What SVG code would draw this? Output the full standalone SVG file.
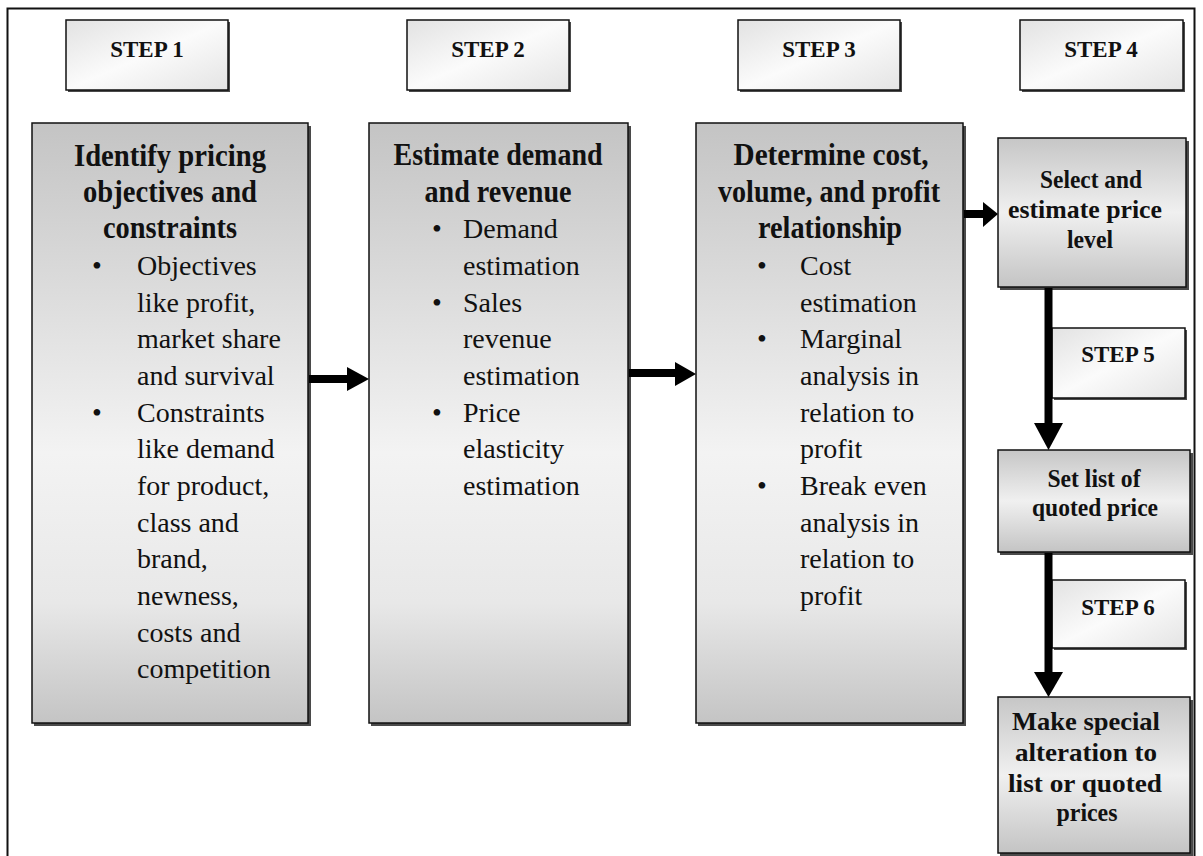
<svg xmlns="http://www.w3.org/2000/svg" width="1203" height="856" viewBox="0 0 1203 856">
  <defs>
    <linearGradient id="gBig" x1="0" y1="0" x2="0" y2="1">
      <stop offset="0" stop-color="#c4c4c4"/>
      <stop offset="0.55" stop-color="#f3f3f3"/>
      <stop offset="0.8" stop-color="#e8e8e8"/>
      <stop offset="1" stop-color="#c4c4c4"/>
    </linearGradient>
    <linearGradient id="gSmall" x1="0" y1="0" x2="0" y2="1">
      <stop offset="0" stop-color="#c6c6c6"/>
      <stop offset="0.5" stop-color="#f0f0f0"/>
      <stop offset="1" stop-color="#c4c4c4"/>
    </linearGradient>
    <linearGradient id="gStep" x1="0" y1="0" x2="1" y2="1">
      <stop offset="0" stop-color="#e2e2e2"/>
      <stop offset="0.5" stop-color="#fbfbfb"/>
      <stop offset="1" stop-color="#e4e4e4"/>
    </linearGradient>
  </defs>
  <style>
    .shadow { fill: #4a4a4a; }
    .big { fill: url(#gBig); stroke: #111; stroke-width: 1.5; }
    .small { fill: url(#gSmall); stroke: #111; stroke-width: 1.5; }
    .step { fill: url(#gStep); stroke: #111; stroke-width: 1.5; }
    .head { font-family: "Liberation Serif", "Times New Roman", serif; font-weight: bold; font-size: 32px; fill: #111; text-anchor: middle; }
    .body { font-family: "Liberation Serif", "Times New Roman", serif; font-size: 28px; fill: #111; }
    .lbl { font-family: "Liberation Serif", "Times New Roman", serif; font-weight: bold; font-size: 26px; fill: #111; text-anchor: middle; }
    .stp { font-family: "Liberation Serif", "Times New Roman", serif; font-weight: bold; font-size: 23px; fill: #111; text-anchor: middle; }
    .bul { font-family: "Liberation Serif", "Times New Roman", serif; font-size: 28px; fill: #111; text-anchor: middle; }
    .shaft { stroke: #000; stroke-width: 8; fill: none; }
    .tip { fill: #000; }
  </style>

  <rect width="1203" height="856" fill="#ffffff"/>
  <!-- outer frame (bottom edge runs past the page) -->
  <rect id="frame" x="7.5" y="8.5" width="1187" height="870" fill="none" stroke="#111" stroke-width="2"/>

  <!-- step labels -->
  <g id="step1">
    <rect class="shadow" x="68" y="22" width="162" height="70"/>
    <rect class="step" x="66" y="20" width="162" height="70"/>
    <text class="stp" x="147" y="57">STEP 1</text>
  </g>
  <g id="step2">
    <rect class="shadow" x="409" y="22" width="162" height="70"/>
    <rect class="step" x="407" y="20" width="162" height="70"/>
    <text class="stp" x="488" y="57">STEP 2</text>
  </g>
  <g id="step3">
    <rect class="shadow" x="740" y="22" width="162" height="70"/>
    <rect class="step" x="738" y="20" width="162" height="70"/>
    <text class="stp" x="819" y="57">STEP 3</text>
  </g>
  <g id="step4">
    <rect class="shadow" x="1022" y="22" width="163" height="70"/>
    <rect class="step" x="1020" y="20" width="163" height="70"/>
    <text class="stp" x="1101" y="57">STEP 4</text>
  </g>
  <g id="step5">
    <rect class="shadow" x="1054" y="330" width="133" height="70"/>
    <rect class="step" x="1052" y="328" width="133" height="70"/>
    <text class="stp" x="1118" y="362">STEP 5</text>
  </g>
  <g id="step6">
    <rect class="shadow" x="1054" y="582" width="133" height="68"/>
    <rect class="step" x="1052" y="580" width="133" height="68"/>
    <text class="stp" x="1118" y="615">STEP 6</text>
  </g>

  <!-- stage 1 -->
  <g id="objectives">
    <rect class="shadow" x="34" y="126" width="277" height="600"/>
    <rect class="big" x="32" y="123" width="276" height="600"/>
    <text class="head" x="170" y="166" textLength="192" lengthAdjust="spacingAndGlyphs">Identify pricing</text>
    <text class="head" x="170" y="202" textLength="174" lengthAdjust="spacingAndGlyphs">objectives and</text>
    <text class="head" x="170" y="238" textLength="134" lengthAdjust="spacingAndGlyphs">constraints</text>
    <text class="bul" x="97" y="275">•</text>
    <text class="body" x="137" y="275">Objectives</text>
    <text class="body" x="137" y="312">like profit,</text>
    <text class="body" x="137" y="348">market share</text>
    <text class="body" x="137" y="385">and survival</text>
    <text class="bul" x="97" y="422">•</text>
    <text class="body" x="137" y="422">Constraints</text>
    <text class="body" x="137" y="458">like demand</text>
    <text class="body" x="137" y="495">for product,</text>
    <text class="body" x="137" y="532">class and</text>
    <text class="body" x="137" y="568">brand,</text>
    <text class="body" x="137" y="605">newness,</text>
    <text class="body" x="137" y="642">costs and</text>
    <text class="body" x="137" y="678">competition</text>
  </g>

  <!-- stage 2 -->
  <g id="demand">
    <rect class="shadow" x="371" y="126" width="260" height="600"/>
    <rect class="big" x="369" y="123" width="259" height="600"/>
    <text class="head" x="498" y="165" textLength="209" lengthAdjust="spacingAndGlyphs">Estimate demand</text>
    <text class="head" x="498" y="202" textLength="147" lengthAdjust="spacingAndGlyphs">and revenue</text>
    <text class="bul" x="437" y="238">•</text>
    <text class="body" x="463" y="238">Demand</text>
    <text class="body" x="463" y="275">estimation</text>
    <text class="bul" x="437" y="312">•</text>
    <text class="body" x="463" y="312">Sales</text>
    <text class="body" x="463" y="348">revenue</text>
    <text class="body" x="463" y="385">estimation</text>
    <text class="bul" x="437" y="422">•</text>
    <text class="body" x="463" y="422">Price</text>
    <text class="body" x="463" y="458">elasticity</text>
    <text class="body" x="463" y="495">estimation</text>
  </g>

  <!-- stage 3 -->
  <g id="cost">
    <rect class="shadow" x="698" y="126" width="268" height="600"/>
    <rect class="big" x="696" y="123" width="267" height="600"/>
    <text class="head" x="831" y="165" textLength="195" lengthAdjust="spacingAndGlyphs">Determine cost,</text>
    <text class="head" x="829" y="202" textLength="222" lengthAdjust="spacingAndGlyphs">volume, and profit</text>
    <text class="head" x="830" y="238" textLength="144" lengthAdjust="spacingAndGlyphs">relationship</text>
    <text class="bul" x="762" y="275">•</text>
    <text class="body" x="800" y="275">Cost</text>
    <text class="body" x="800" y="312">estimation</text>
    <text class="bul" x="762" y="348">•</text>
    <text class="body" x="800" y="348">Marginal</text>
    <text class="body" x="800" y="385">analysis in</text>
    <text class="body" x="800" y="422">relation to</text>
    <text class="body" x="800" y="458">profit</text>
    <text class="bul" x="762" y="495">•</text>
    <text class="body" x="800" y="495">Break even</text>
    <text class="body" x="800" y="532">analysis in</text>
    <text class="body" x="800" y="568">relation to</text>
    <text class="body" x="800" y="605">profit</text>
  </g>

  <!-- stage 4 -->
  <g id="price-level">
    <rect class="shadow" x="1000" y="141" width="189" height="149"/>
    <rect class="small" x="998" y="138" width="188" height="149"/>
    <text class="lbl" x="1091" y="188" textLength="102" lengthAdjust="spacingAndGlyphs">Select and</text>
    <text class="lbl" x="1085" y="218" textLength="154" lengthAdjust="spacingAndGlyphs">estimate price</text>
    <text class="lbl" x="1090" y="248" textLength="46" lengthAdjust="spacingAndGlyphs">level</text>
  </g>

  <!-- stage 5 -->
  <g id="list-price">
    <rect class="shadow" x="1000" y="453" width="193" height="102"/>
    <rect class="small" x="998" y="450" width="192" height="102"/>
    <text class="lbl" x="1094" y="487" textLength="93" lengthAdjust="spacingAndGlyphs">Set list of</text>
    <text class="lbl" x="1095" y="516" textLength="126" lengthAdjust="spacingAndGlyphs">quoted price</text>
  </g>

  <!-- stage 6 -->
  <g id="alteration">
    <rect class="shadow" x="1000" y="700" width="193" height="156"/>
    <rect class="small" x="998" y="697" width="192" height="156"/>
    <text class="lbl" x="1086" y="730" textLength="148" lengthAdjust="spacingAndGlyphs">Make special</text>
    <text class="lbl" x="1086" y="761" textLength="142" lengthAdjust="spacingAndGlyphs">alteration to</text>
    <text class="lbl" x="1085" y="792" textLength="154" lengthAdjust="spacingAndGlyphs">list or quoted</text>
    <text class="lbl" x="1087" y="821" textLength="61" lengthAdjust="spacingAndGlyphs">prices</text>
  </g>

  <!-- connectors -->
  <g id="connectors">
    <line class="shaft" x1="309" y1="379" x2="349" y2="379"/>
    <polygon class="tip" points="347,367 369,379 347,391"/>
    <line class="shaft" x1="629" y1="373" x2="677" y2="373"/>
    <polygon class="tip" points="675,362 696,374 675,386"/>
    <line class="shaft" x1="964" y1="214" x2="985" y2="214"/>
    <polygon class="tip" points="983,202 998,214 983,227"/>
    <line class="shaft" x1="1048.5" y1="288" x2="1048.5" y2="425"/>
    <polygon class="tip" points="1034,423 1063,423 1048.5,450"/>
    <line class="shaft" x1="1048.5" y1="553" x2="1048.5" y2="674"/>
    <polygon class="tip" points="1034,672 1063,672 1048.5,697"/>
  </g>
</svg>
